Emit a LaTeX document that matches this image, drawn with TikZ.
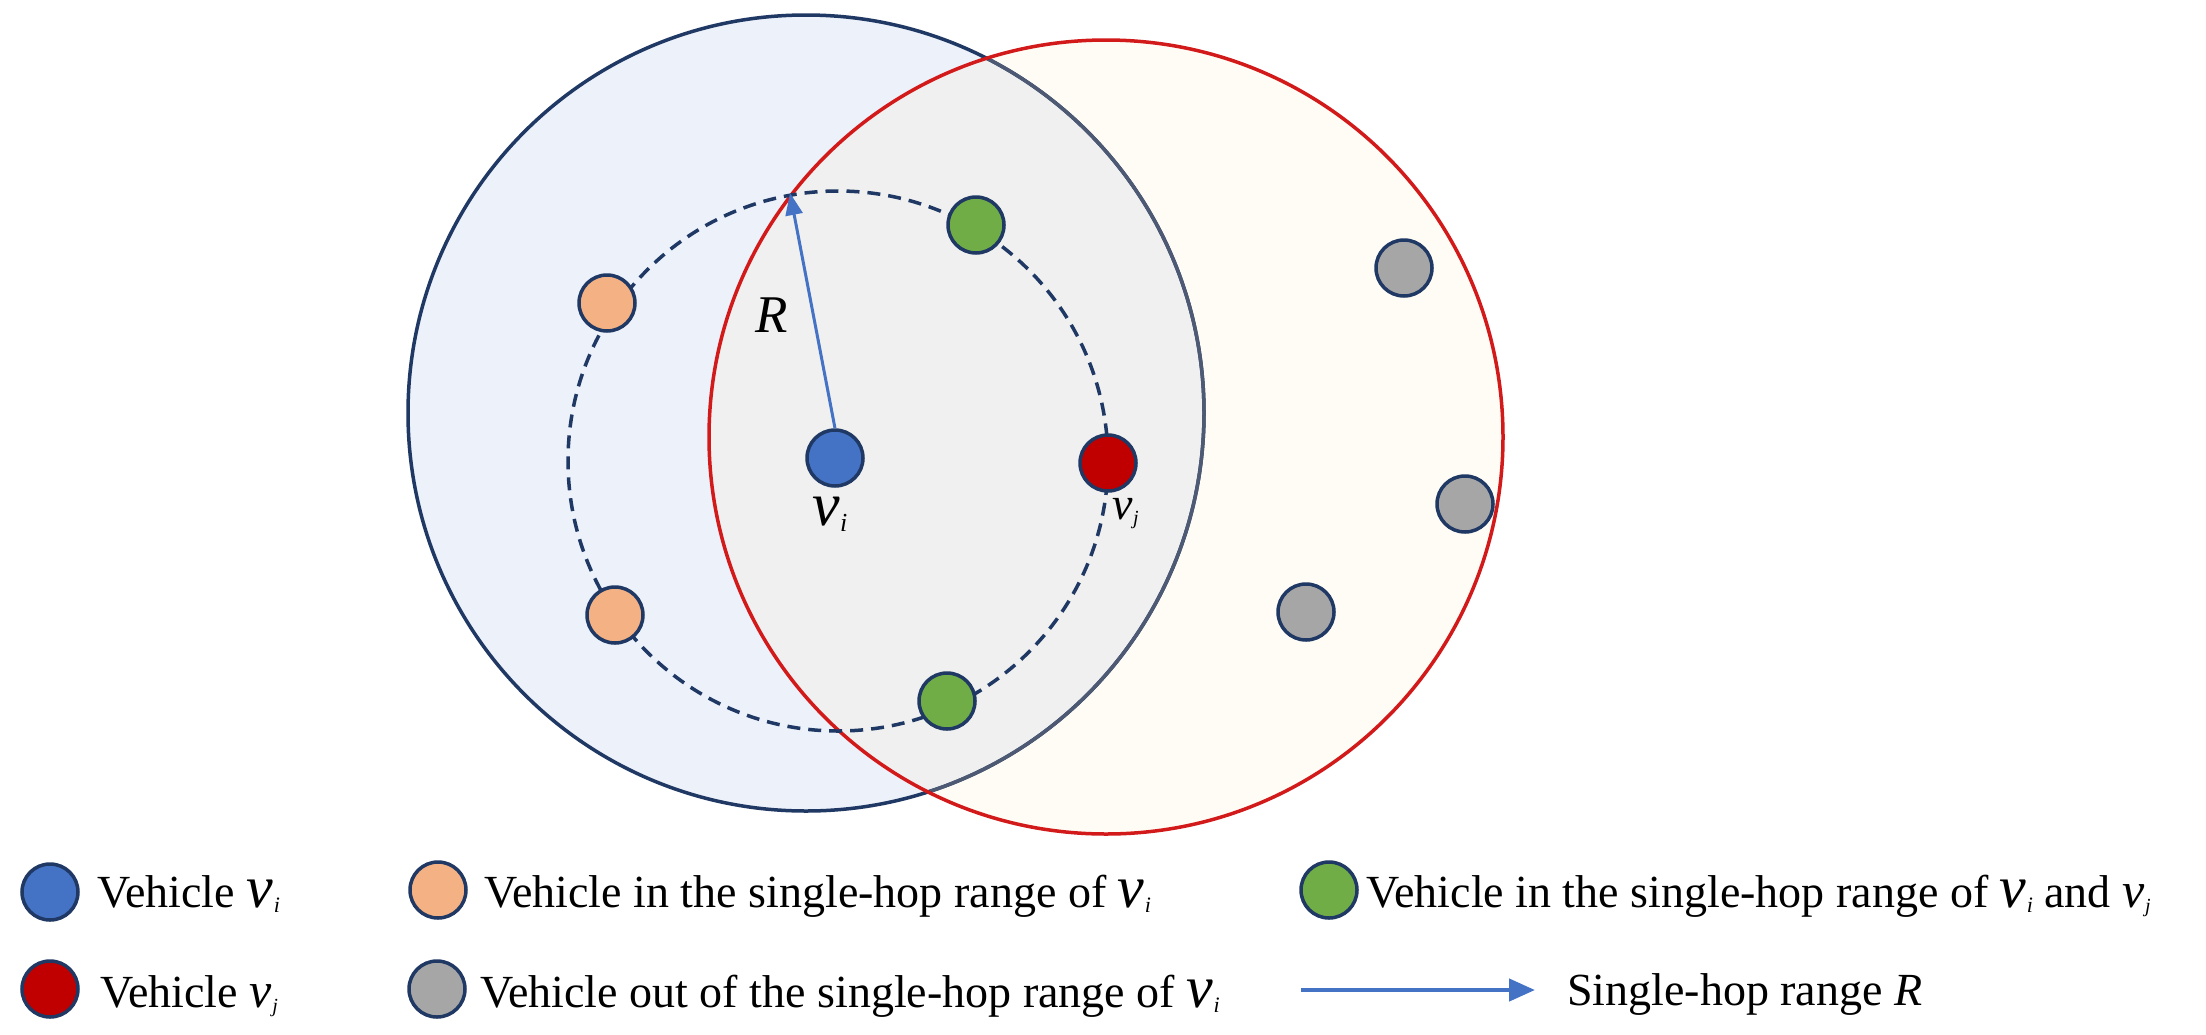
\documentclass[tikz,border=0pt]{standalone}
\usepackage{fontspec}
\setmainfont{Liberation Serif}[ItalicFont={Liberation Serif Italic}]
\usetikzlibrary{arrows.meta}
\definecolor{navy}{HTML}{1F3864}
\definecolor{slate}{HTML}{4E5A74}
\definecolor{rimred}{HTML}{D21A1A}
\definecolor{lightblue}{HTML}{ECF1FA}
\definecolor{cream}{HTML}{FEFCF4}
\definecolor{overlapgray}{HTML}{F0F0F0}
\definecolor{vblue}{HTML}{4472C4}
\definecolor{vred}{HTML}{C00000}
\definecolor{vorange}{HTML}{F4B183}
\definecolor{vgreen}{HTML}{70AD47}
\definecolor{vgray}{HTML}{A6A6A6}
\newcommand{\vsym}[3]{{\fontsize{#1pt}{#1pt}\selectfont\itshape v}\kern0.5pt{\fontsize{#2pt}{#2pt}\selectfont\raisebox{-0.25em}{\itshape #3}}}
\begin{document}
\begin{tikzpicture}[x=1pt,y=-1pt,
  veh/.style={circle, draw=navy, line width=3.5pt, minimum size=56pt, inner sep=0pt},
  lbl/.style={anchor=base west, inner sep=0pt, font=\fontsize{46pt}{52pt}\selectfont},
  rarrow/.style={draw=vblue, line width=3pt, -{Triangle[length=22pt,width=17pt]}},
  legarrow/.style={draw=vblue, line width=4.5pt, -{Triangle[length=26pt,width=22pt]}},
  dashring/.style={draw=navy, line width=3.5pt, dash pattern=on 13pt off 8pt}]
\useasboundingbox (0,0) rectangle (2206,1034);
\fill[white] (0,0) rectangle (2206,1034);
% range regions
\fill[lightblue] (806,413) circle [radius=398];
\fill[cream] (1106,437) circle [radius=397];
\begin{scope}
  \clip (1106,437) circle [radius=397];
  \fill[overlapgray] (806,413) circle [radius=398];
\end{scope}
\draw[navy, line width=3.5pt] (806,413) circle [radius=398];
\begin{scope}
  \clip (1106,437) circle [radius=395];
  \draw[slate, line width=3.5pt] (806,413) circle [radius=398];
\end{scope}
\draw[rimred, line width=3.5pt] (1106,437) circle [radius=397];
% single-hop ring
\draw[dashring] (838,461) circle [radius=270];
% vehicles
\node[veh, fill=vblue] (vi) at (835,458) {};
\node[veh, fill=vred] (vj) at (1108,463) {};
\node[veh, fill=vorange] (o1) at (607,303) {};
\node[veh, fill=vorange] (o2) at (615,615) {};
\node[veh, fill=vgreen] (g1) at (976,225) {};
\node[veh, fill=vgreen] (g2) at (947,701) {};
\node[veh, fill=vgray] (x1) at (1404,268) {};
\node[veh, fill=vgray] (x2) at (1465,504) {};
\node[veh, fill=vgray] (x3) at (1306,612) {};
% range arrow
\coordinate (rtip) at (790,193);
\draw[rarrow] (vi.north) -- (rtip);
\node[anchor=base west, inner sep=0pt] (Rlab) at (755,332) {\fontsize{53pt}{53pt}\selectfont\itshape R};
\node[anchor=base west, inner sep=0pt] (vilab) at (812,525) {\vsym{62}{26}{i}};
\node[anchor=base west, inner sep=0pt] (vjlab) at (1112,519) {\vsym{46}{20}{j}};
% legend
\node[veh, fill=vblue] (L1) at (50,892) {};
\node[lbl] (T1) at (97,907) {Vehicle \vsym{60}{22}{i}};
\node[veh, fill=vred] (L2) at (50,989) {};
\node[lbl] (T2) at (100,1007) {Vehicle \vsym{50}{20}{j}};
\node[veh, fill=vorange] (L3) at (438,890) {};
\node[lbl] (T3) at (484,907) {Vehicle in the single-hop range of \vsym{60}{22}{i}};
\node[veh, fill=vgray] (L4) at (437,989) {};
\node[lbl] (T4) at (480,1007) {Vehicle out of the single-hop range of \vsym{60}{22}{i}};
\node[veh, fill=vgreen] (L5) at (1329,890) {};
\node[lbl] (T5) at (1366,907) {Vehicle in the single-hop range of \vsym{60}{22}{i} and \vsym{50}{20}{j}};
\coordinate (A1) at (1301,990);
\coordinate (A2) at (1535,990);
\draw[legarrow] (A1) -- (A2);
\node[lbl] (T6) at (1567,1005) {Single-hop range \textit{R}};
\end{tikzpicture}
\end{document}
